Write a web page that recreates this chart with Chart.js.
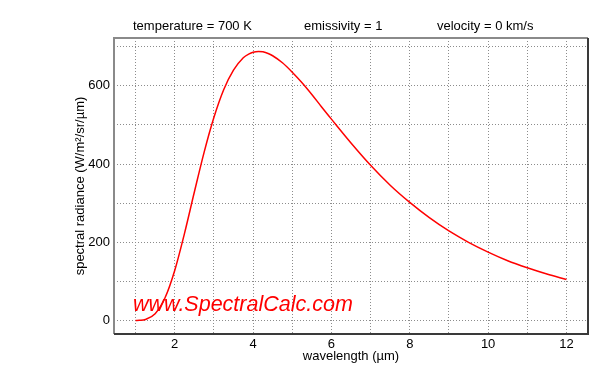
<!DOCTYPE html>
<html>
<head>
<meta charset="utf-8">
<script src="https://cdn.jsdelivr.net/npm/chart.js@4/dist/chart.umd.min.js"></script>
<style>
html,body{margin:0;padding:0;background:#fff;}
#wrap{width:600px;height:380px;position:relative;}
</style>
</head>
<body>
<div id="wrap"><canvas id="c" width="600" height="380"></canvas></div>
<script>
// wavelength (µm)
const wavelength = [1, 1.1, 1.25, 1.5, 1.75, 2, 2.25, 2.5, 2.75, 3, 3.25, 3.5, 3.75, 3.9, 4, 4.14, 4.25, 4.4, 4.5, 4.75, 5, 5.25, 5.5, 5.75, 6, 6.5, 7, 7.5, 8, 8.5, 9, 9.5, 10, 10.5, 11, 11.5, 12];
// spectral radiance (W/m²/sr/µm)
const radiance = [0.1, 0.6, 2.8, 17.6, 57.5, 128, 223, 328, 430, 519, 590, 640, 672, 682, 686, 688, 687, 682, 677, 659, 635, 608, 578, 546, 515, 454, 397, 346, 302, 263, 229, 200, 175, 153, 135, 119, 105];
const xTickLabels = [2, 4, 6, 8, 10, 12];
const yTickLabels = [0, 200, 400, 600];
const headerTexts = ["temperature = 700 K", "emissivity = 1", "velocity = 0 km/s"];
const xTitle = "wavelength (\u00b5m)";
const yTitle = "spectral radiance (W/m\u00b2/sr/\u00b5m)";
const watermark = "www.SpectralCalc.com";

const FONT = "'Liberation Sans', Arial, Helvetica, sans-serif";

const overlay = {
  id: 'overlay',
  afterDraw(chart) {
    const ctx = chart.ctx;
    const a = chart.chartArea;
    ctx.save();
    // frame
    ctx.lineWidth = 2;
    ctx.strokeStyle = '#8a8a8a';
    ctx.beginPath();
    ctx.moveTo(a.left, a.bottom); ctx.lineTo(a.left, a.top); ctx.lineTo(a.right, a.top);
    ctx.stroke();
    ctx.strokeStyle = '#3a3a3a';
    ctx.beginPath();
    ctx.moveTo(a.right, a.top); ctx.lineTo(a.right, a.bottom); ctx.lineTo(a.left, a.bottom);
    ctx.stroke();
    // header
    ctx.fillStyle = '#000';
    ctx.font = '13px ' + FONT;
    ctx.textBaseline = 'alphabetic';
    ctx.textAlign = 'left';
    const hx = [133, 304, 437];
    headerTexts.forEach((t, i) => ctx.fillText(t, hx[i], 30));
    // x title
    ctx.textAlign = 'center';
    ctx.fillText(xTitle, (a.left + a.right) / 2, 360);
    // y title
    ctx.save();
    ctx.translate(84, (a.top + a.bottom) / 2);
    ctx.rotate(-Math.PI / 2);
    ctx.fillText(yTitle, 0, 0);
    ctx.restore();
    // watermark
    ctx.fillStyle = '#ff0000';
    ctx.textAlign = 'left';
    ctx.font = 'italic 21.5px ' + FONT;
    ctx.fillText(watermark, 133, 311);
    ctx.restore();
  }
};

new Chart(document.getElementById('c'), {
  type: 'line',
  data: {
    datasets: [{
      data: wavelength.map((x, i) => ({x: x, y: radiance[i]})),
      borderColor: '#ff0000',
      borderWidth: 1.5,
      pointRadius: 0,
      fill: false,
      cubicInterpolationMode: 'monotone'
    }]
  },
  options: {
    responsive: false,
    animation: false,
    devicePixelRatio: 1,
    layout: {padding: {left: 0, top: 38, right: 12, bottom: 0}},
    plugins: {legend: {display: false}, tooltip: {enabled: false}},
    scales: {
      x: {
        type: 'linear',
        min: 0.45, max: 12.55,
        afterFit(s) { s.height = 46; },
        border: {display: false, dash: [1, 2]},
        grid: {color: '#8c8c8c', lineWidth: 1, drawTicks: false},
        ticks: {
          stepSize: 1, includeBounds: false, autoSkip: false, maxRotation: 0,
          padding: 3, color: '#000', font: {family: FONT, size: 13},
          callback: v => xTickLabels.includes(v) ? String(v) : ''
        }
      },
      y: {
        type: 'linear',
        min: -34.4, max: 722.4,
        afterFit(s) { s.width = 114; },
        border: {display: false, dash: [1, 2]},
        grid: {color: '#8c8c8c', lineWidth: 1, drawTicks: false},
        ticks: {
          stepSize: 100, includeBounds: false, autoSkip: false,
          padding: 4, color: '#000', font: {family: FONT, size: 13},
          callback: v => yTickLabels.includes(v) ? String(v) : ''
        }
      }
    }
  },
  plugins: [overlay]
});
</script>
</body>
</html>
